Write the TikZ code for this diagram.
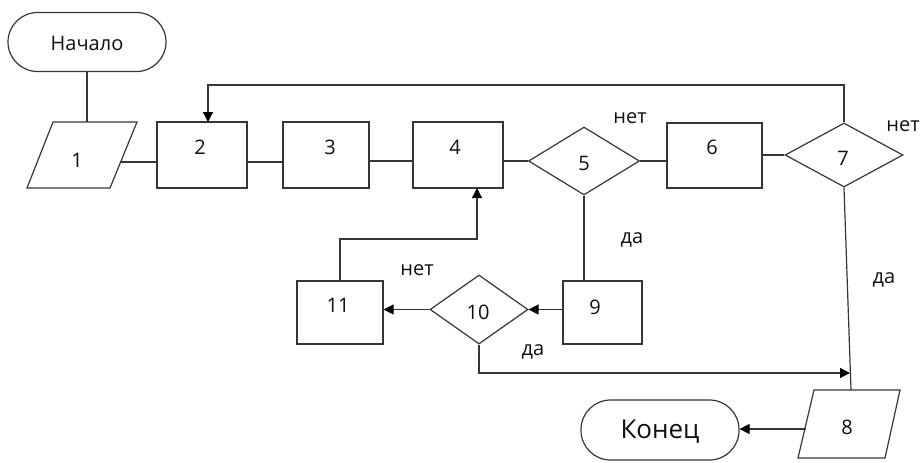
\documentclass[tikz,border=0pt]{standalone}
\usepackage{fontspec}
\setmainfont{Open Sans}
\usetikzlibrary{shapes.geometric,arrows.meta,calc}
\definecolor{linec}{HTML}{363636}
\definecolor{txtc}{HTML}{101010}
\begin{document}
\begin{tikzpicture}[x=1pt,y=-1pt,
  shp/.style={draw=linec, line width=1.2pt, fill=white},
  box/.style={shp, rectangle, inner sep=0pt},
  dia/.style={shp, diamond, inner sep=0pt},
  term/.style={shp, rectangle, inner sep=0pt, rounded corners=29.5pt},
  lbl/.style={font=\fontsize{20}{24}\selectfont, text=txtc, inner sep=0pt},
  big/.style={font=\fontsize{26}{30}\selectfont, text=txtc, inner sep=0pt},
  wire/.style={draw=linec, line width=1.2pt},
  arr/.style={wire, -{Triangle[length=10pt,width=10pt,color=black]}}]
\useasboundingbox (0,0) rectangle (921,463);

% terminals
\node[term, minimum width=158, minimum height=59] (start) at (87,42) {};
\node[lbl] at (87,43) {Начало};
\node[term, minimum width=158, minimum height=60] (stop) at (660,430) {};
\node[big] at (660,432) {Конец};

% input / output blocks (parallelograms)
\draw[shp] (53,122) -- (137,122) -- (110,188) -- (27,188) -- cycle;
\node[lbl] (p1) at (77,160) {1};
\coordinate (p1top) at (87,122);
\coordinate (p1r) at (121,162);
\draw[shp] (814,390) -- (900,390) -- (885,458) -- (798,458) -- cycle;
\node[lbl] (p8) at (847,427) {8};
\coordinate (p8top) at (851,390);
\coordinate (p8l) at (806,429);

% process blocks
\node[box, minimum width=90, minimum height=66] (b2) at (202,155) {};
\node[lbl] at (200,147) {2};
\node[box, minimum width=86, minimum height=66] (b3) at (326,155) {};
\node[lbl] at (330,147) {3};
\node[box, minimum width=90, minimum height=66] (b4) at (458,155) {};
\node[lbl] at (455,147) {4};
\node[box, minimum width=95, minimum height=65] (b6) at (714.5,155.5) {};
\node[lbl] at (712,147) {6};
\node[box, minimum width=79, minimum height=63] (b9) at (602.5,312.5) {};
\node[lbl] at (595,307) {9};
\node[box, minimum width=86, minimum height=63] (b11) at (340,312.5) {};
\node[lbl] at (338,305) {11};

% decisions
\node[dia, minimum width=111, minimum height=68] (d5) at (584,161) {};
\node[lbl] at (584,163) {5};
\node[dia, minimum width=118, minimum height=64] (d7) at (844,155) {};
\node[lbl] at (843,158) {7};
\node[dia, minimum width=98, minimum height=69] (d10) at (479,309.5) {};
\node[lbl] at (478,312) {10};

% connectors
\draw[wire] (start.south) -- (p1top);
\draw[wire] (p1r) -- (p1r -| b2.west);
\draw[wire] (b2.east |- p1r) -- (b3.west |- p1r);
\draw[wire] (b3.east |- d5.west) -- (b4.west |- d5.west);
\draw[wire] (b4.east |- d5.west) -- (d5.west);
\draw[wire] (d5.east) -- (d5.east -| b6.west);
\draw[wire] (b6.east |- d7.west) -- (d7.west);
\coordinate (fb) at (208,122);
\draw[arr] (d7.north) -- (d7.north |- 0,85) -| (fb);
\draw[wire] (d7.south) -- (p8top);
\draw[wire] (d5.south) -- (d5.south |- b9.north);
\draw[arr] (b9.west |- d10.east) -- (d10.east);
\draw[arr] (d10.west) -- (d10.west -| b11.east);
\coordinate (a4) at (477,188);
\draw[arr] (b11.north) -- (b11.north |- 0,239) -| (a4);
\coordinate (j8) at (850,373);
\draw[arr] (d10.south) |- (j8);
\draw[arr] (p8l) -- (p8l -| stop.east);

% branch labels
\node[lbl] at (630,118) {нет};
\node[lbl] at (903,126) {нет};
\node[lbl] at (632,240) {да};
\node[lbl] at (884,280) {да};
\node[lbl] at (417,270) {нет};
\node[lbl] at (533,352) {да};
\end{tikzpicture}
\end{document}
